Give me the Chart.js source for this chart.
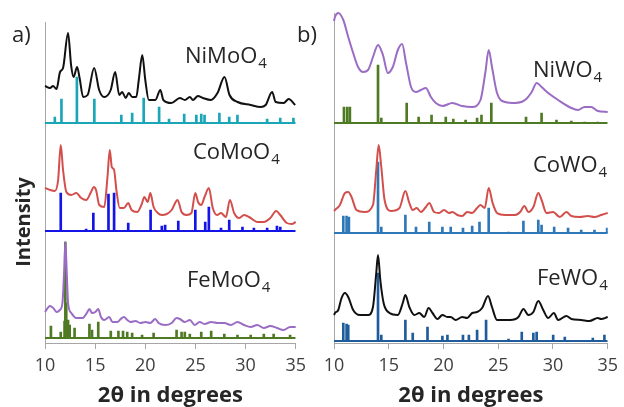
<!DOCTYPE html>
<html>
<head>
<meta charset="utf-8">
<script src="https://cdn.jsdelivr.net/npm/chart.js@4.4.1/dist/chart.umd.min.js"></script>
<style>
  body { margin: 0; background: #fff; }
  #wrap { position: relative; width: 624px; height: 407px; overflow: hidden; }
  canvas { position: absolute; top: 0; }
</style>
</head>
<body>
<div id="wrap">
  <canvas id="panelA" width="312" height="407" style="left:0"></canvas>
  <canvas id="panelB" width="330" height="407" style="left:294px"></canvas>
</div>
<script>
// x axis: 2θ in degrees
const X_MIN = 10, X_MAX = 35;
const xTickValues = [10, 15, 20, 25, 30, 35];

// ---- panel a) molybdates (intensity in arbitrary offset units) ----
const niMoO4Measured = [
  [10.0,257],[10.5,255],[10.8,257],[11.15,254],[11.5,271],[11.8,275],[12.3,310],[12.6,278],
  [12.85,266],[13.2,276],[13.45,265],[13.8,246],[14.25,248],[14.9,275],[15.4,253],[15.9,246],
  [16.55,253],[17.0,271],[17.4,248],[17.7,251],[18.05,245],[18.35,250],[18.7,246],[19.1,246],
  [19.35,263],[19.7,288],[20.0,263],[20.35,243],[21.0,243],[21.5,253],[21.8,243],[22.6,240],
  [23.45,245],[23.95,243],[24.45,246],[24.75,243],[25.25,247],[25.75,245],[26.55,243],[27.2,250],
  [27.9,266],[28.4,248],[29.2,241],[30.5,238],[31.5,236],[32.0,238],[32.65,251],[33.0,241],
  [33.8,240],[34.3,244],[34.95,238]
];
const niMoO4RefBase = 220;
const niMoO4Ref = [
  [10.98,226],[11.64,244],[13.18,266],[14.92,244],[17.61,228],[18.69,230],[19.84,245],[21.38,236],
  [22.37,224],[23.88,229],[25.09,228],[25.58,229],[25.91,228],[27.39,230],[28.37,226],[29.19,228],
  [32.15,224],[33.46,225],[34.77,225]
];

const coMoO4Measured = [
  [10.0,155],[10.5,153],[10.98,152],[11.31,163],[11.57,198],[11.8,173],[12.13,151],[12.62,148],
  [13.12,150],[13.61,145],[14.1,143],[14.59,151],[14.86,156],[15.09,153],[15.41,138],[15.91,136],
  [16.23,166],[16.46,193],[16.66,176],[16.89,173],[17.12,153],[17.45,135],[17.87,135],[18.3,140],
  [18.63,133],[19.19,131],[19.61,138],[19.91,146],[20.24,141],[20.5,150],[20.83,136],[21.25,130],
  [21.65,128],[22.14,129],[22.63,133],[23.22,143],[23.62,131],[24.11,128],[24.6,130],[24.99,150],
  [25.26,141],[25.58,138],[25.91,146],[26.34,155],[26.73,135],[27.16,128],[27.55,130],[28.04,126],
  [28.44,143],[28.86,130],[29.36,125],[29.85,128],[30.5,125],[31.16,121],[31.82,121],[32.47,125],
  [33.06,132],[33.46,128],[34.11,120],[34.61,119],[35.0,121]
];
const coMoO4RefBase = 112;
const coMoO4Ref = [
  [11.57,150],[14.1,114],[14.82,130],[16.33,149],[16.89,150],[18.3,120],[20.53,133],[21.65,117],
  [21.98,118],[23.29,122],[24.99,133],[25.98,121],[26.34,136],[27.55,115],[28.37,123],[29.69,116],
  [30.83,115],[32.15,115],[33.13,117],[33.46,116]
];

const feMoO4Measured = [
  [10.0,31],[10.5,37],[10.82,35],[11.15,31],[11.48,33],[11.74,40],[11.9,70],[12.03,101],
  [12.17,70],[12.3,40],[12.62,30],[13.12,25],[13.77,25],[14.17,30],[14.43,34],[14.69,30],
  [15.02,31],[15.31,34],[15.58,26],[15.91,23],[16.4,26],[16.73,21],[17.22,21],[17.55,24],
  [17.87,26],[18.2,23],[18.53,21],[19.02,22],[19.51,20],[20.01,21],[20.5,20],[20.99,24],
  [21.32,20],[21.98,18],[22.63,20],[23.12,25],[23.45,24],[23.94,21],[24.44,23],[24.93,18],
  [25.42,21],[25.91,19],[26.57,21],[27.22,20],[27.88,20],[28.54,18],[29.19,21],[29.85,18],
  [30.51,16],[31.16,18],[31.82,15],[32.47,17],[33.13,15],[33.79,13],[34.44,16],[35.0,16]
];
const feMoO4RefBase = 5;
const feMoO4Ref = [
  [10.59,17],[11.57,11],[11.95,22],[12.03,101],[12.12,40],[12.3,23],[12.46,18],[12.95,15],
  [14.43,19],[14.69,13],[15.31,21],[16.56,12],[17.32,12],[17.78,12],[18.2,11],[18.69,10],
  [19.68,8],[20.83,10],[23.12,13],[23.62,11],[23.94,11],[24.44,9],[25.58,11],[26.57,12],
  [27.88,9],[29.19,8],[30.51,8],[31.82,9],[32.8,9],[34.44,8]
];

// ---- panel b) tungstates ----
const niWO4Measured = [
  [10.0,322],[10.09,326],[10.39,330],[10.85,323],[11.3,306],[11.75,290],[12.2,276],[12.66,271],
  [13.11,273],[13.56,286],[14.02,298],[14.47,288],[14.92,270],[15.37,276],[15.83,293],[16.22,299],
  [16.58,280],[17.04,256],[17.49,251],[17.94,253],[18.39,255],[18.85,246],[19.3,240],[19.9,237],
  [20.81,240],[21.71,237],[22.62,236],[23.38,243],[23.83,271],[24.13,293],[24.43,276],[24.89,250],
  [25.64,241],[26.55,240],[27.45,243],[28.06,251],[28.51,260],[28.96,256],[29.57,250],[30.47,243],
  [31.68,235],[32.28,233],[32.89,236],[33.49,236],[34.09,232],[35.0,231]
];
const niWO4RefBase = 220;
const niWO4Ref = [
  [10.91,236],[11.21,236],[11.45,236],[14.02,278],[14.32,225],[16.64,240],[17.73,226],[18.91,228],
  [20.21,226],[20.9,224],[22.02,223],[23.07,225],[23.47,228],[24.37,240],[27.54,226],[28.96,230],
  [30.32,223],[31.68,222],[32.89,221],[34.09,221]
];

const coWO4Measured = [
  [10.0,132],[10.09,133],[10.54,138],[11.0,150],[11.3,151],[11.6,146],[12.05,133],[12.81,131],
  [13.56,138],[13.86,173],[14.08,198],[14.32,176],[14.62,143],[15.22,132],[15.98,135],[16.52,152],
  [16.88,140],[17.19,133],[17.55,135],[17.94,131],[18.39,136],[18.7,140],[19.15,131],[19.6,130],
  [20.05,133],[20.51,130],[20.81,131],[21.26,128],[21.71,127],[22.17,131],[22.62,130],[23.07,135],
  [23.38,138],[23.77,135],[24.13,155],[24.49,140],[24.89,130],[25.64,128],[26.55,128],[27.0,131],
  [27.39,137],[27.75,131],[28.21,136],[28.66,150],[28.96,143],[29.41,130],[30.02,131],[30.62,126],
  [31.23,131],[31.68,127],[32.43,126],[33.19,127],[33.79,126],[34.4,128],[35.0,130]
];
const coWO4RefBase = 110;
const coWO4Ref = [
  [10.85,127],[11.15,127],[11.36,126],[14.02,181],[14.32,116],[16.52,128],[17.49,116],[18.7,121],
  [19.9,116],[20.66,116],[21.78,115],[22.62,117],[23.29,121],[24.13,135],[25.94,111],[27.3,122],
  [28.66,123],[28.96,118],[30.11,116],[31.38,115],[32.58,113],[33.79,113],[34.95,115]
];

const feWO4Measured = [
  [10.0,28],[10.09,30],[10.39,33],[10.69,45],[11.0,50],[11.3,46],[11.75,33],[12.36,28],
  [13.11,28],[13.56,36],[13.86,70],[14.02,88],[14.23,63],[14.53,40],[15.07,30],[15.83,28],
  [16.28,40],[16.52,48],[16.88,36],[17.34,28],[17.79,30],[18.24,26],[18.64,35],[19.0,30],
  [19.45,24],[19.9,28],[20.36,26],[20.66,26],[21.11,23],[21.71,26],[22.17,25],[22.62,30],
  [23.07,31],[23.53,35],[24.07,47],[24.43,36],[24.89,23],[25.49,23],[26.09,23],[26.85,26],
  [27.3,34],[27.75,28],[28.21,31],[28.66,42],[29.11,33],[29.57,25],[30.08,30],[30.47,23],
  [31.23,27],[31.68,24],[32.58,23],[33.33,22],[34.09,25],[34.4,24],[35.0,26]
];
const feWO4RefBase = 2;
const feWO4Ref = [
  [10.85,20],[11.15,19],[11.3,18],[14.02,70],[14.32,8],[16.52,23],[17.19,10],[18.54,16],
  [19.9,7],[20.36,8],[21.78,8],[22.32,8],[23.07,13],[23.89,23],[25.94,4],[27.15,11],
  [28.21,10],[28.51,11],[30.02,8],[31.08,6],[33.64,5],[34.7,8]
];

const TEXT = '#262626';
const AXIS = '#a6a6a6';
const FONT = '"Open Sans", "Noto Sans", sans-serif';

function trace(pts, color) {
  return {
    type: 'line',
    data: pts.map(p => ({ x: p[0], y: p[1] })),
    borderColor: color, borderWidth: 2, pointRadius: 0,
    cubicInterpolationMode: 'monotone', fill: false, clip: 8
  };
}
function sticks(pts, base, color) {
  return {
    type: 'bar',
    data: pts.map(p => ({ x: p[0], y: [base, p[1]] })),
    backgroundColor: color, borderWidth: 0, barThickness: 2, grouped: false
  };
}
function baseLine(base, color) {
  return {
    type: 'line',
    data: [{ x: X_MIN, y: base }, { x: X_MAX, y: base }],
    borderColor: color, borderWidth: 2, pointRadius: 0
  };
}

// text labels drawn on top of the chart: compound names with subscripts, panel letters
function labelPlugin(items) {
  return {
    id: 'labels',
    afterDraw(chart) {
      const ctx = chart.ctx;
      ctx.save();
      ctx.fillStyle = TEXT;
      ctx.textBaseline = 'alphabetic';
      ctx.textAlign = 'left';
      items.forEach(it => {
        if (it.rotate) {
          ctx.save();
          ctx.translate(it.x, it.y);
          ctx.rotate(-Math.PI / 2);
          ctx.font = 'bold 20px ' + FONT;
          ctx.textAlign = 'center';
          ctx.textBaseline = 'middle';
          ctx.fillText(it.text, 0, 0);
          ctx.restore();
          return;
        }
        ctx.font = '22px ' + FONT;
        ctx.fillText(it.text, it.x, it.y);
        if (it.sub) {
          const w = ctx.measureText(it.text).width;
          ctx.font = '15px ' + FONT;
          ctx.fillText(it.sub, it.x + w + 1, it.y + 5);
        }
      });
      ctx.restore();
    }
  };
}

function makeChart(id, datasets, yMax, padding, labels) {
  return new Chart(document.getElementById(id), {
    type: 'line',
    data: { datasets },
    options: {
      responsive: false,
      animation: false,
      layout: { padding },
      plugins: { legend: { display: false }, tooltip: { enabled: false } },
      scales: {
        x: {
          type: 'linear', min: X_MIN, max: X_MAX, offset: false,
          afterBuildTicks: s => { s.ticks = xTickValues.map(v => ({ value: v })); },
          afterFit: s => { s.height = 64; },
          ticks: { font: { family: FONT, size: 18 }, color: '#404040', padding: 6, maxRotation: 0 },
          grid: { display: true, drawOnChartArea: false, drawTicks: true, tickLength: 6, color: AXIS, offset: false },
          border: { display: true, color: AXIS, width: 1 },
          title: {
            display: true, text: '2θ in degrees', color: TEXT,
            font: { family: FONT, size: 22, weight: 'bold' }, padding: { top: 0, bottom: -2 }
          }
        },
        y: {
          type: 'linear', min: 0, max: yMax,
          afterFit: s => { s.width = 0; },
          ticks: { display: false },
          grid: { display: false },
          border: { display: true, color: AXIS, width: 1 }
        }
      }
    },
    plugins: [labelPlugin(labels)]
  });
}

makeChart('panelA', [
  trace(niMoO4Measured, '#111111'),
  trace(coMoO4Measured, '#d24f4c'),
  trace(feMoO4Measured, '#9a6cc4'),
  sticks(niMoO4Ref, niMoO4RefBase, '#1ba6b8'),
  baseLine(niMoO4RefBase, '#1ba6b8'),
  sticks(coMoO4Ref, coMoO4RefBase, '#1414e6'),
  baseLine(coMoO4RefBase, '#1414e6'),
  sticks(feMoO4Ref, feMoO4RefBase, '#4f7a24'),
  baseLine(feMoO4RefBase, '#4f7a24')
], 321, { left: 45, right: 13, top: 22, bottom: 0 }, [
  { text: 'a)', x: 12, y: 42 },
  { text: 'NiMoO', sub: '4', x: 185, y: 63 },
  { text: 'CoMoO', sub: '4', x: 193, y: 159 },
  { text: 'FeMoO', sub: '4', x: 187, y: 287 },
  { text: 'Intensity', rotate: true, x: 24, y: 222 }
]);

makeChart('panelB', [
  trace(niWO4Measured, '#9a6cc4'),
  trace(coWO4Measured, '#d24f4c'),
  trace(feWO4Measured, '#111111'),
  sticks(niWO4Ref, niWO4RefBase, '#4f7a24'),
  baseLine(niWO4RefBase, '#4f7a24'),
  sticks(coWO4Ref, coWO4RefBase, '#2e78b8'),
  baseLine(coWO4RefBase, '#2e78b8'),
  sticks(feWO4Ref, feWO4RefBase, '#1f5c9c'),
  baseLine(feWO4RefBase, '#1f5c9c')
], 330, { left: 40, right: 14, top: 13, bottom: 0 }, [
  { text: 'b)', x: 3, y: 42 },
  { text: 'NiWO', sub: '4', x: 239, y: 77 },
  { text: 'CoWO', sub: '4', x: 239, y: 172 },
  { text: 'FeWO', sub: '4', x: 243, y: 285 }
]);
</script>
</body>
</html>
